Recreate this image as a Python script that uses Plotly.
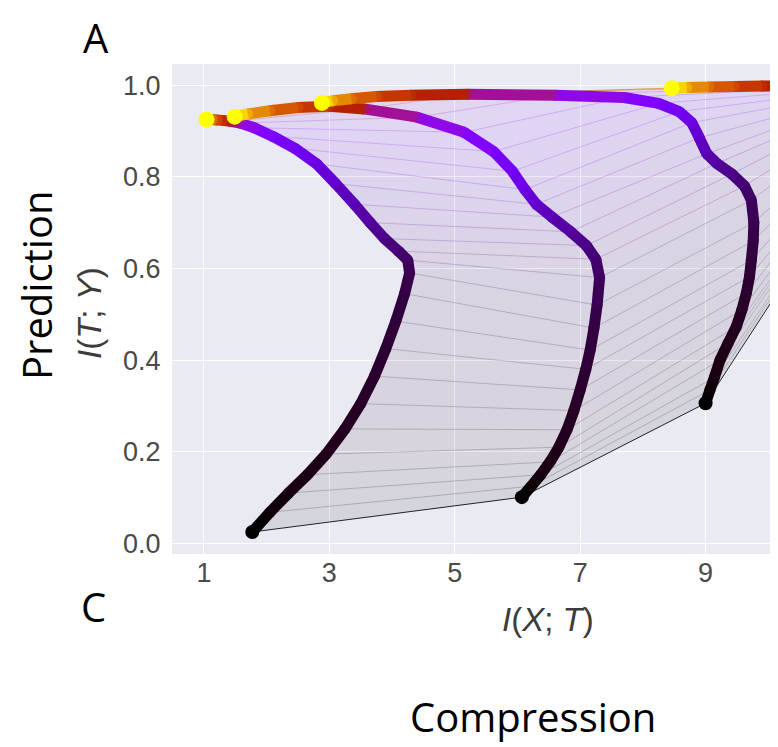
import plotly.graph_objects as go
from plotly.colors import sample_colorscale

# ---------------- data ----------------
# position of each recorded epoch on the colour scale (0 = first, 1 = last epoch)
epoch_t = [0.000, 0.004, 0.008, 0.012, 0.016, 0.020, 0.024, 0.028, 0.032, 0.036,
           0.042, 0.050, 0.060, 0.072, 0.086, 0.103, 0.123, 0.146, 0.172, 0.200,
           0.235, 0.280, 0.350, 0.450, 0.550, 0.650, 0.750, 0.870, 1.000]

# layer trajectories in the information plane: I(X;T) and I(T;Y) per epoch
layer1_ixt = [1.77, 2.05, 2.35, 2.65, 2.95, 3.25, 3.50, 3.72, 3.90, 4.06,
              4.20, 4.28, 4.25, 4.10, 3.88, 3.65, 3.40, 3.10, 2.80, 2.45,
              2.10, 1.80, 1.58, 1.42, 1.30, 1.20, 1.13, 1.08, 1.04]
layer1_ity = [0.025, 0.068, 0.110, 0.150, 0.195, 0.250, 0.305, 0.365, 0.425, 0.485,
              0.545, 0.590, 0.618, 0.638, 0.665, 0.700, 0.740, 0.785, 0.828, 0.862,
              0.888, 0.907, 0.917, 0.921, 0.923, 0.924, 0.925, 0.925, 0.925]

layer2_ixt = [6.07, 6.22, 6.37, 6.52, 6.66, 6.79, 6.90, 7.00, 7.09, 7.16,
              7.22, 7.27, 7.31, 7.25, 7.10, 6.85, 6.55, 6.30, 6.12, 5.92,
              5.62, 5.15, 4.40, 3.55, 3.00, 2.50, 2.05, 1.70, 1.49]
layer2_ity = [0.101, 0.125, 0.150, 0.178, 0.210, 0.248, 0.290, 0.335, 0.380, 0.422,
              0.470, 0.520, 0.580, 0.620, 0.650, 0.680, 0.712, 0.740, 0.772, 0.812,
              0.855, 0.897, 0.930, 0.948, 0.954, 0.951, 0.944, 0.937, 0.931]

layer3_ixt = [9.00, 9.07, 9.14, 9.23, 9.36, 9.49, 9.58, 9.65, 9.70, 9.73,
              9.76, 9.77, 9.73, 9.62, 9.42, 9.18, 9.02, 8.90, 8.78, 8.58,
              8.25, 7.70, 6.60, 5.20, 4.30, 3.75, 3.35, 3.05, 2.88]
layer3_ity = [0.306, 0.335, 0.362, 0.400, 0.437, 0.473, 0.510, 0.546, 0.582, 0.618,
              0.660, 0.700, 0.749, 0.780, 0.806, 0.829, 0.850, 0.885, 0.918, 0.942,
              0.960, 0.973, 0.978, 0.980, 0.978, 0.975, 0.970, 0.966, 0.961]

layer4_ixt = [11.30, 11.32, 11.35, 11.38, 11.41, 11.44, 11.47, 11.49, 11.51, 11.52,
              11.52, 11.51, 11.49, 11.46, 11.42, 11.37, 11.31, 11.24, 11.16, 11.08,
              10.98, 10.85, 10.60, 10.30, 9.90, 9.45, 9.05, 8.70, 8.46]
layer4_ity = [0.790, 0.800, 0.810, 0.822, 0.834, 0.846, 0.858, 0.870, 0.882, 0.893,
              0.905, 0.917, 0.928, 0.938, 0.948, 0.957, 0.965, 0.972, 0.979, 0.985,
              0.990, 0.994, 0.997, 0.998, 0.998, 0.997, 0.996, 0.995, 0.993]

x_ticks = [1, 3, 5, 7, 9]
y_ticks = [0.0, 0.2, 0.4, 0.6, 0.8, 1.0]

layers = [(layer1_ixt, layer1_ity), (layer2_ixt, layer2_ity),
          (layer3_ixt, layer3_ity), (layer4_ixt, layer4_ity)]

# ---------------- style ----------------
GNUPLOT = [[0.00, 'rgb(0,0,0)'], [0.01, 'rgb(26,0,16)'], [0.02, 'rgb(36,0,32)'],
           [0.05, 'rgb(57,0,79)'], [0.10, 'rgb(81,0,150)'], [0.15, 'rgb(99,1,206)'],
           [0.20, 'rgb(114,2,243)'], [0.25, 'rgb(128,4,255)'], [0.30, 'rgb(140,7,243)'],
           [0.35, 'rgb(151,11,206)'], [0.40, 'rgb(161,16,150)'], [0.45, 'rgb(171,23,79)'],
           [0.50, 'rgb(180,32,0)'], [0.60, 'rgb(198,55,0)'], [0.70, 'rgb(213,88,0)'],
           [0.80, 'rgb(228,131,0)'], [0.90, 'rgb(242,187,0)'], [1.00, 'rgb(255,255,0)']]


def col(t, a=1.0):
    c = sample_colorscale(GNUPLOT, [t])[0]
    r, g, b = [float(v) for v in c[c.index('(') + 1:-1].split(',')]
    return f'rgba({r:.0f},{g:.0f},{b:.0f},{a})'


fig = go.Figure()
n = len(epoch_t)

# shaded surface between neighbouring layers (one band per epoch step)
for k in range(n - 1):
    xs, ys = [], []
    for (ax, ay), (bx, by) in zip(layers[:-1], layers[1:]):
        xs += [ax[k], bx[k], bx[k + 1], ax[k + 1], ax[k], None]
        ys += [ay[k], by[k], by[k + 1], ay[k + 1], ay[k], None]
    fig.add_trace(go.Scatter(x=xs, y=ys, mode='lines', fill='toself',
                             fillcolor=col(epoch_t[k], 0.09), line=dict(width=0),
                             hoverinfo='skip'))

# thin lines joining the layers at each epoch
for k in range(n):
    fig.add_trace(go.Scatter(x=[l[0][k] for l in layers], y=[l[1][k] for l in layers],
                             mode='lines', hoverinfo='skip',
                             line=dict(color=col(epoch_t[k], 0.85 if k == 0 else 0.2), width=1)))

# thick trajectories, drawn epoch by epoch so later epochs lie on top
for k in range(n):
    if k > 0:
        xs, ys = [], []
        for lx, ly in layers:
            xs += [lx[k - 1], lx[k], None]
            ys += [ly[k - 1], ly[k], None]
        fig.add_trace(go.Scatter(x=xs, y=ys, mode='lines', hoverinfo='skip',
                                 line=dict(color=col(0.5 * (epoch_t[k - 1] + epoch_t[k])), width=11)))
    size = 14 if k == 0 else (16 if k == n - 1 else 11)
    fig.add_trace(go.Scatter(x=[l[0][k] for l in layers], y=[l[1][k] for l in layers],
                             mode='markers', hoverinfo='skip',
                             marker=dict(color=col(epoch_t[k]), size=size, line=dict(width=0))))

# the page has an 8 px body margin, so the figure is made 8 px smaller
OFF = 8
W, H = 778 - OFF, 747 - OFF
L, R, T, B = 172 - OFF, 0, 64 - OFF, 193
pw, ph = W - L - R, H - T - B


def px(x):
    return (x - OFF - L) / pw


def py(y):
    return (H - B - (y - OFF)) / ph


big = dict(family='Open Sans', size=40, color='black')
axfont = dict(family='Liberation Sans', size=33, color='#3c3c3c')
ann = [
    dict(text='A', x=px(96), y=py(OFF), font=big, yanchor='top'),
    dict(text='C', x=px(93), y=py(606), font=big),
    dict(text='Prediction', x=px(36), y=py(285), font=big, textangle=-90),
    dict(text='Compression', x=px(533), y=py(716), font=big),
    dict(text='<i>I</i>(<i>X</i>; <i>T</i>)', x=px(548), y=py(619), font=axfont),
    dict(text='<i>I</i>(<i>T</i>; <i>Y</i>)', x=px(89), y=py(313), font=axfont, textangle=-90),
]
for a in ann:
    a.setdefault('yanchor', 'middle')
    a.update(xref='paper', yref='paper', showarrow=False, xanchor='center')

tickfont = dict(family='Liberation Sans', size=27, color='#4a4a4a')
fig.update_layout(
    width=W, height=H, margin=dict(l=L, r=R, t=T, b=B, pad=0),
    paper_bgcolor='white', plot_bgcolor='#eaeaf2', showlegend=False,
    annotations=ann,
    xaxis=dict(range=[0.49, 10.155], tickvals=x_ticks, showgrid=True, gridcolor='white',
               gridwidth=1.3, zeroline=False, showline=False, ticks='', tickfont=tickfont),
    yaxis=dict(range=[-0.023, 1.046], tickvals=y_ticks, tickformat='.1f', showgrid=True,
               gridcolor='white', gridwidth=1.3, zeroline=False, showline=False,
               ticks='outside', ticklen=5, tickcolor='rgba(0,0,0,0)', tickfont=tickfont),
)

fig.write_html('out.html')
